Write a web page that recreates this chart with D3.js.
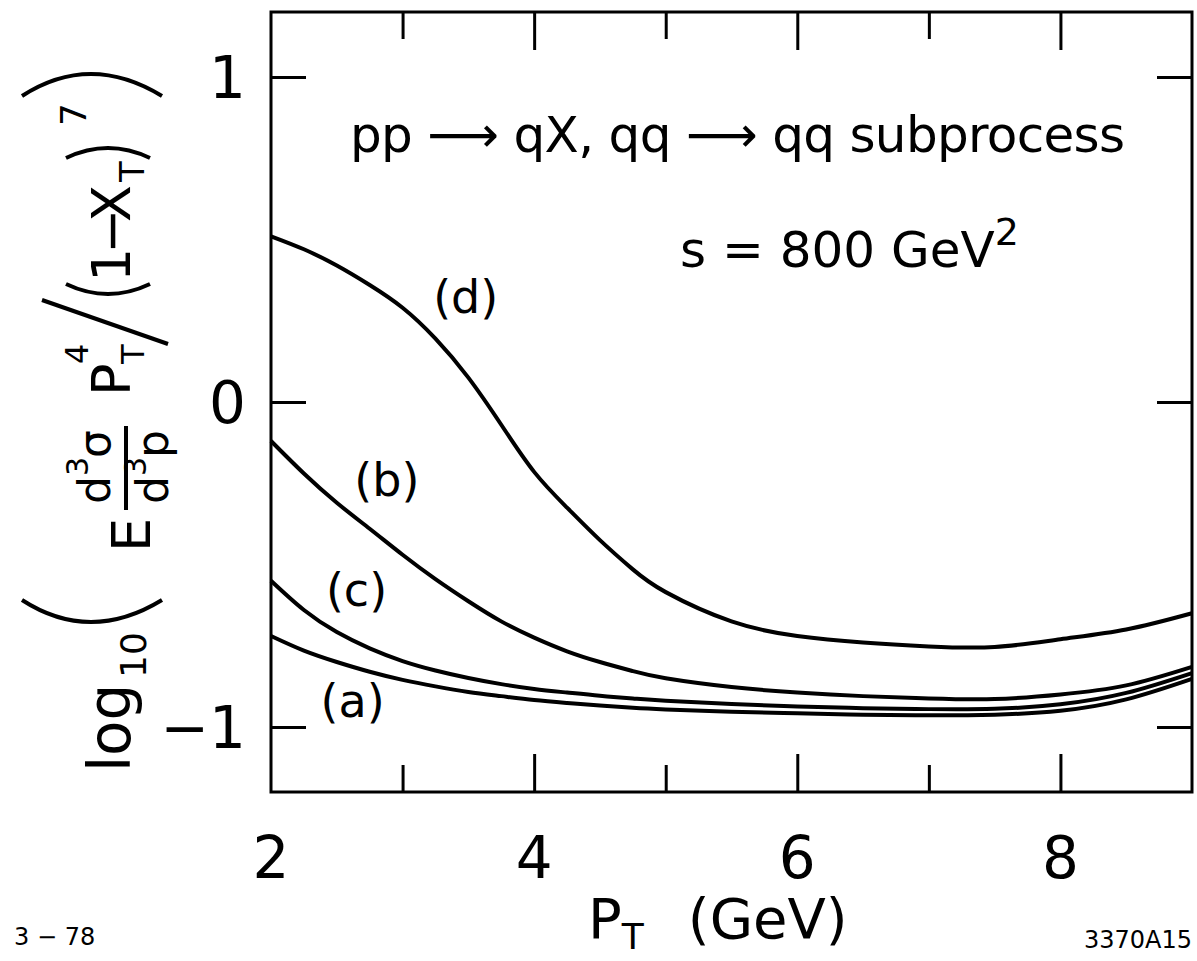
<!DOCTYPE html>
<html>
<head>
<meta charset="utf-8">
<script src="https://cdn.jsdelivr.net/npm/d3@7/dist/d3.min.js"></script>
<style>
  html, body { margin: 0; padding: 0; background: #fff; }
  svg { display: block; }
  text { font-family: "DejaVu Sans", sans-serif; fill: #000; }
</style>
</head>
<body>
<svg id="chart" width="1197" height="961"></svg>
<script>
// transverse momentum grid (GeV)
const pt = [2.0, 2.25, 2.5, 2.75, 3.0, 3.25, 3.5, 3.75, 4.0, 4.25, 4.5, 4.75, 5.0, 5.5, 6.0, 6.5, 7.0, 7.5, 8.0, 8.5, 9.0];

// log10( E d3sigma/d3p * pT^4 / (1 - xT)^7 ) for the four model curves
const curveA = [-0.72, -0.765, -0.80, -0.83, -0.855, -0.875, -0.892, -0.905, -0.917, -0.926, -0.934, -0.941, -0.946, -0.953, -0.958, -0.962, -0.964, -0.962, -0.95, -0.915, -0.852];
const curveB = [-0.12, -0.22, -0.31, -0.39, -0.47, -0.545, -0.613, -0.675, -0.725, -0.767, -0.80, -0.828, -0.85, -0.877, -0.894, -0.905, -0.912, -0.914, -0.90, -0.872, -0.815];
const curveC = [-0.55, -0.64, -0.708, -0.758, -0.797, -0.826, -0.849, -0.868, -0.883, -0.894, -0.904, -0.912, -0.919, -0.929, -0.937, -0.942, -0.945, -0.944, -0.93, -0.895, -0.834];
const curveD = [0.51, 0.47, 0.42, 0.36, 0.29, 0.195, 0.075, -0.07, -0.215, -0.325, -0.425, -0.515, -0.585, -0.675, -0.72, -0.74, -0.752, -0.754, -0.73, -0.70, -0.65];

// curve tags and the point each tag sits next to
const tagNames = ["(d)", "(b)", "(c)", "(a)"];
const tagX = [3.48, 2.88, 2.65, 2.62];
const tagY = [0.275, -0.29, -0.628, -0.97];

// axis ticks
const xTicksMajor = [4, 6, 8];
const xTicksMinor = [3, 5, 7];
const xTickLabels = [2, 4, 6, 8];
const yTicks = [-1, 0, 1];
const yTickLabels = ["−1", "0", "1"];

const svg = d3.select("#chart");
const x = d3.scaleLinear().domain([2, 9]).range([271, 1192]);
const y = d3.scaleLinear().domain([-1.2, 1.2]).range([792, 12]);

// frame
svg.append("rect")
  .attr("x", x(2)).attr("y", y(1.2))
  .attr("width", x(9) - x(2)).attr("height", y(-1.2) - y(1.2))
  .attr("fill", "none").attr("stroke", "#000").attr("stroke-width", 3);

// inward ticks, longer on the even values
function xTicks(vals, len) {
  const bottom = d3.axisBottom(x).tickValues(vals).tickSizeInner(-len).tickSizeOuter(0).tickFormat("");
  const top = d3.axisTop(x).tickValues(vals).tickSizeInner(-len).tickSizeOuter(0).tickFormat("");
  svg.append("g").attr("transform", `translate(0,${y(-1.2)})`).call(bottom);
  svg.append("g").attr("transform", `translate(0,${y(1.2)})`).call(top);
}
xTicks(xTicksMajor, 38);
xTicks(xTicksMinor, 27);
svg.append("g").attr("transform", `translate(${x(2)},0)`)
  .call(d3.axisLeft(y).tickValues(yTicks).tickSizeInner(-35).tickSizeOuter(0).tickFormat(""));
svg.append("g").attr("transform", `translate(${x(9)},0)`)
  .call(d3.axisRight(y).tickValues(yTicks).tickSizeInner(-35).tickSizeOuter(0).tickFormat(""));
svg.selectAll(".domain").remove();
svg.selectAll(".tick line").attr("stroke", "#000").attr("stroke-width", 3);

// tick labels
svg.append("g").selectAll("text").data(xTickLabels).join("text")
  .attr("x", d => x(d)).attr("y", 878)
  .attr("text-anchor", "middle").attr("font-size", 58)
  .text(d => d);
svg.append("g").selectAll("text").data(yTicks).join("text")
  .attr("x", 246).attr("y", d => y(d)).attr("dy", "0.36em")
  .attr("text-anchor", "end").attr("font-size", 58)
  .text((d, i) => yTickLabels[i]);

// model curves
const line = d3.line().x((d, i) => x(pt[i])).y(d => y(d)).curve(d3.curveNatural);
[curveA, curveB, curveC, curveD].forEach(c => {
  svg.append("path").datum(c).attr("d", line)
    .attr("fill", "none").attr("stroke", "#000").attr("stroke-width", 4);
});

// curve tags
svg.append("g").selectAll("text").data(tagNames).join("text")
  .attr("x", (d, i) => x(tagX[i])).attr("y", (d, i) => y(tagY[i]))
  .attr("text-anchor", "middle").attr("font-size", 46)
  .text(d => d);

// process and energy annotations
svg.append("text").attr("x", 350).attr("y", 152).attr("font-size", 50)
  .attr("textLength", 775).attr("lengthAdjust", "spacing")
  .text("pp ⟶ qX, qq ⟶ qq subprocess");
const sText = svg.append("text").attr("x", 680).attr("y", 267).attr("font-size", 50);
sText.append("tspan").text("s = 800 GeV");
sText.append("tspan").attr("dy", -22).attr("font-size", 38).text("2");

// x axis title
const xt = svg.append("text").attr("x", 588).attr("y", 938).attr("font-size", 56);
xt.append("tspan").text("P");
xt.append("tspan").attr("dy", 11).attr("font-size", 36).text("T");
xt.append("tspan").attr("dy", -11).attr("dx", 44).text("(GeV)");

// y axis title, set sideways
const yt = svg.append("g").attr("transform", "translate(130,772) rotate(-90)");
const ink = { fill: "none", stroke: "#000", "stroke-width": 4 };
function piece(t, lx, ly, size) {
  yt.append("text").attr("x", lx).attr("y", ly).attr("font-size", size).text(t);
}
function stroke(d) {
  const p = yt.append("path").attr("d", d);
  Object.entries(ink).forEach(([k, v]) => p.attr(k, v));
}
piece("log", 0, 0, 58);
piece("10", 94, 16, 36);
stroke("M172,-108 Q128,-40 172,32");        // large opening bracket
piece("E", 220, 20, 54);
piece("d", 268, -20, 44); piece("3", 296, -42, 30); piece("σ", 314, -20, 44);
yt.append("line").attr("x1", 262).attr("x2", 346).attr("y1", -4).attr("y2", -4)
  .attr("stroke", "#000").attr("stroke-width", 4);
piece("d", 268, 38, 44); piece("3", 296, 16, 30); piece("p", 314, 38, 44);
piece("P", 376, 0, 54);
piece("4", 408, -42, 32);
piece("T", 408, 14, 32);
yt.append("line").attr("x1", 428).attr("y1", 38).attr("x2", 472).attr("y2", -88)
  .attr("stroke", "#000").attr("stroke-width", 4);
stroke("M488,-64 Q468,-22 488,20");         // small opening bracket
piece("1", 490, 0, 54);
piece("−", 518, 0, 54);
piece("X", 550, 0, 54);
piece("T", 590, 14, 34);
stroke("M614,-64 Q634,-22 614,20");         // small closing bracket
piece("7", 646, -44, 36);
stroke("M676,-108 Q720,-40 676,32");        // large closing bracket

// footer marks
svg.append("text").attr("x", 14).attr("y", 945).attr("font-size", 24).text("3 − 78");
svg.append("text").attr("x", 1192).attr("y", 948).attr("font-size", 24).attr("text-anchor", "end").text("3370A15");
</script>
</body>
</html>
